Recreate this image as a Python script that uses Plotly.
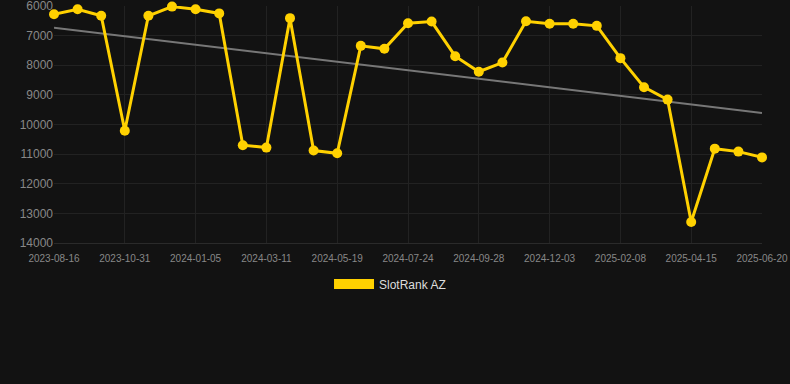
import numpy as np
import plotly.graph_objects as go

dates = [
    "2023-08-16", "2023-09-10", "2023-10-05", "2023-10-31", "2023-11-22", "2023-12-14",
    "2024-01-05", "2024-01-27", "2024-02-18", "2024-03-11", "2024-04-03", "2024-04-26",
    "2024-05-19", "2024-06-10", "2024-07-02", "2024-07-24", "2024-08-15", "2024-09-06",
    "2024-09-28", "2024-10-20", "2024-11-11", "2024-12-03", "2024-12-25", "2025-01-17",
    "2025-02-08", "2025-03-02", "2025-03-24", "2025-04-15", "2025-05-07", "2025-05-29",
    "2025-06-20",
]
ranks = [
    6280, 6110, 6330, 10210, 6330, 6020, 6110, 6250, 10700, 10780, 6410, 10880,
    10970, 7345, 7445, 6580, 6525, 7695, 8220, 7910, 6515, 6600, 6600, 6670,
    7760, 8740, 9160, 13290, 10815, 10915, 11110,
]
tick_labels = dates[::3]
y_ticks = list(range(6000, 14001, 1000))
series_name = "SlotRank AZ"

idx = np.arange(len(ranks))
slope, intercept = np.polyfit(idx, ranks, 1)
trend = slope * idx + intercept

gold = "#FFD100"
fig = go.Figure()
fig.add_trace(go.Scatter(
    x=dates, y=trend, mode="lines",
    line=dict(color="#777777", width=2), showlegend=False, hoverinfo="skip",
    cliponaxis=False,
))
fig.add_trace(go.Scatter(
    x=dates, y=ranks, mode="lines+markers",
    line=dict(color=gold, width=3), marker=dict(color=gold, size=10),
    showlegend=False, name=series_name, cliponaxis=False,
))
fig.add_trace(go.Scatter(
    x=[None], y=[None], mode="lines", name=series_name,
    line=dict(color=gold, width=12),
))

fig.update_layout(
    width=790, height=384,
    margin=dict(l=54, r=28, t=6, b=141),
    paper_bgcolor="#121212", plot_bgcolor="#121212",
    font=dict(family="Liberation Sans, Arial, sans-serif", color="#888888"),
    showlegend=True,
    legend=dict(
        orientation="h", x=0.4746, xanchor="center", y=-0.173, yanchor="middle",
        font=dict(size=12, color="#dddddd"), bgcolor="rgba(0,0,0,0)",
        itemwidth=40,
    ),
    xaxis=dict(
        type="category", categoryorder="array", categoryarray=dates,
        range=[0, len(dates) - 1],
        tickvals=tick_labels, ticktext=tick_labels,
        tickfont=dict(size=10, color="#888888"),
        showgrid=True, gridcolor="#222222", gridwidth=1,
        zeroline=False, showline=True, linecolor="#2a2a2a",
        ticks="", tickangle=0, automargin=False, ticklabelstandoff=6,
        ticklabeloverflow="allow",
    ),
    yaxis=dict(
        range=[14000, 6000], tickvals=y_ticks, ticktext=[str(v) for v in y_ticks],
        tickfont=dict(size=12, color="#888888"),
        showgrid=True, gridcolor="#222222", gridwidth=1,
        zeroline=False, ticks="", automargin=False, ticklabeloverflow="allow",
    ),
)

fig.write_html("out.html")
